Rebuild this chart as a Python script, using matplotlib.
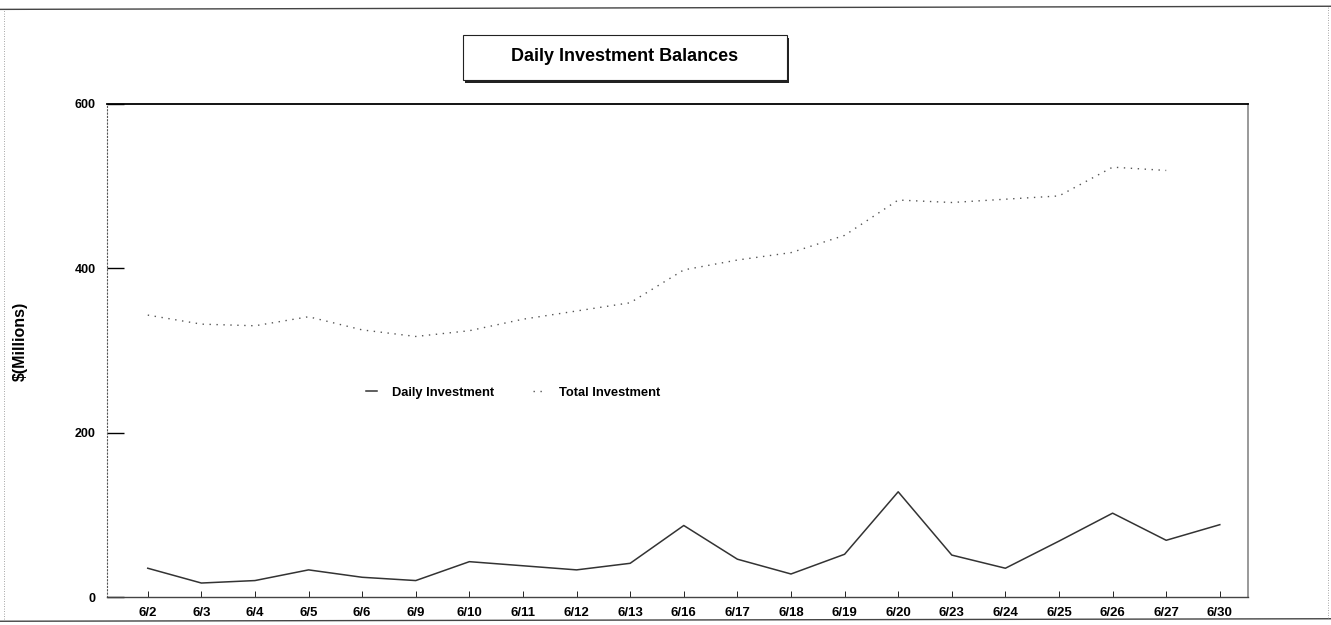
import matplotlib
matplotlib.use("Agg")
import matplotlib.pyplot as plt
import numpy as np
from matplotlib.patches import Rectangle
from matplotlib.lines import Line2D

plt.rcParams['font.family'] = ['Liberation Sans', 'DejaVu Sans']

dates = ["6/2", "6/3", "6/4", "6/5", "6/6", "6/9", "6/10", "6/11", "6/12", "6/13",
         "6/16", "6/17", "6/18", "6/19", "6/20", "6/23", "6/24", "6/25", "6/26", "6/27", "6/30"]
daily = [35, 17, 20, 33, 24, 20, 43, 38, 33, 41,
         87, 46, 28, 52, 128, 51, 35, 68, 102, 69, 88]
total = [343, 332, 330, 341, 325, 317, 324, 338, 348, 358,
         398, 410, 419, 440, 483, 480, 484, 488, 523, 519, np.nan]

x = np.arange(len(dates))

fig = plt.figure(figsize=(13.31, 6.25), dpi=100)
ax = fig.add_axes([0.0804, 0.0448, 0.857, 0.789])

ax.plot(x, daily, color='#333333', lw=1.1, label='Daily Investment')
ax.plot(x, total, color='#555555', lw=1.0, linestyle=(0, (1, 4)), label='Total Investment')

ax.set_xlim(-0.76, 20.52)
ax.set_ylim(0, 600)
ax.set_yticks([0, 200, 400, 600])
ax.set_xticks(x)
ax.set_xticklabels(dates, fontsize=9.5, fontweight='bold')
ax.set_yticklabels(['0', '200', '400', '600'], fontsize=9, fontweight='bold')
ax.tick_params(axis='y', direction='in', length=12, width=1.0, pad=8)
ax.tick_params(axis='x', direction='in', length=4, width=0.6, pad=7)

ax.spines['left'].set_linestyle((0, (1, 2)))
ax.spines['left'].set_linewidth(0.8)
ax.spines['left'].set_color('#555555')
ax.spines['right'].set_linestyle((0, (2, 1)))
ax.spines['right'].set_color('#888888')
ax.spines['right'].set_linewidth(1.2)
ax.spines['top'].set_linewidth(1.3)
ax.spines['bottom'].set_linewidth(1.0)
ax.spines['bottom'].set_color('#444444')

fig.text(0.0155, 0.4544, '$(Millions)', rotation=90, ha='center', va='center',
         fontsize=11.5, fontweight='bold')

leg = ax.legend(loc='center', bbox_to_anchor=(0.356, 0.414), ncol=2, frameon=False,
                prop={'size': 9.3, 'weight': 'bold'}, handlelength=0.8, handletextpad=1.2,
                columnspacing=3.0)

# title box with shadow
fig.patches.append(Rectangle((0.3497, 0.868), 0.2434, 0.072, transform=fig.transFigure,
                             facecolor='#222222', edgecolor='none', zorder=1))
fig.patches.append(Rectangle((0.3477, 0.872), 0.2434, 0.072, transform=fig.transFigure,
                             facecolor='white', edgecolor='#222222', lw=0.8, zorder=2))
fig.text(0.4694, 0.909, 'Daily Investment Balances', ha='center', va='center',
         fontsize=13, fontweight='bold', zorder=3)

# page frame
fig.lines.append(Line2D([0.0, 1.0], [0.985, 0.99], transform=fig.transFigure, color='#444444', lw=1.0))
fig.lines.append(Line2D([0.0, 1.0], [0.006, 0.01], transform=fig.transFigure, color='#444444', lw=1.0))
fig.lines.append(Line2D([0.003, 0.003], [0.01, 0.985], transform=fig.transFigure, color='#888888', lw=0.6, linestyle=(0, (1, 2))))
fig.lines.append(Line2D([0.998, 0.998], [0.012, 0.99], transform=fig.transFigure, color='#888888', lw=0.6, linestyle=(0, (1, 2))))

fig.savefig('out.png', dpi=100)
